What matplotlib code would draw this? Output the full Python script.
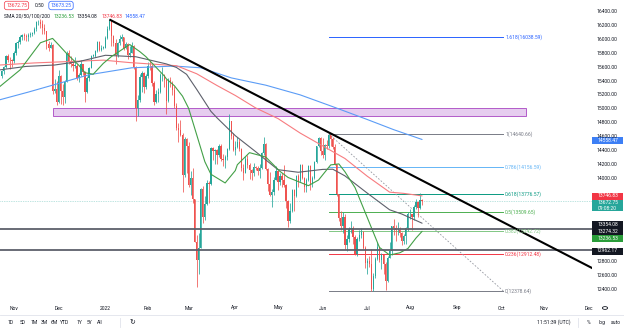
import numpy as np
import pandas as pd
import matplotlib
matplotlib.use('Agg')
import matplotlib.pyplot as plt
from matplotlib.patches import Rectangle, Circle
from matplotlib.lines import Line2D

plt.rcParams['font.family'] = ['Roboto', 'DejaVu Sans']

# ---------------- data (daily candles, Germany 40) ----------------
start_day = '2021-10-22'
opens = [15470, 15540, 15600, 15760, 15705, 15700,
         15690, 15810, 15950, 15960, 16030, 16055, 16045, 16040, 16065, 16080, 16095, 16150, 16245, 16250, 16220, 16160, 16115, 15935, 15880, 15920, 15260, 15280,
         15100, 15470, 15260, 15170, 15390, 15810, 15690, 15640, 15620, 15620, 15450, 15480, 15640, 15530, 15240, 15450, 15590, 15760, 15760, 15830, 15960, 15850, 15880,
         15880, 16020, 16150, 16270, 16050, 15950, 15770, 15940, 16010, 16030, 15880, 15930, 15770, 15810, 15910, 15600, 15010, 15120, 15460, 15520, 15320,
         15470, 15620, 15610, 15370, 15100, 15210, 15240, 15480, 15490, 15420, 15110, 15410, 15370, 15270, 15040, 14730, 14690, 14630, 14050, 14570,
         14460, 13900, 14000, 13700, 13090, 12830, 13000, 13850, 13440, 13630, 13930, 13920, 14440, 14390, 14410, 14330, 14470, 14280, 14270, 14310, 14420, 14820, 14610,
         14410, 14450, 14520, 14420, 14150, 14080, 14280, 14190, 14120, 14080, 14160, 14150, 14110, 14150, 14360, 14500, 14140, 13920, 13760, 13800, 13980,
         14100, 13940, 14040, 13970, 13900, 13670, 13380, 13530, 13830, 13740, 14030, 13960, 14190, 14010, 13880, 13980, 14180, 13920, 14010, 14230, 14460, 14580,
         14390, 14340, 14480, 14460, 14620, 14560, 14450, 14200, 13770, 13430, 13310, 13450, 13040, 13130, 13270, 13290, 13150, 12910, 13120, 13190, 13230, 13000,
         12780, 12810, 12770, 12400, 12590, 12840, 13010, 12830, 12900, 12760, 12520, 12860, 12960, 13310, 13280, 13250, 13250, 13210, 13100, 13170, 13280,
         13480, 13480, 13440, 13590, 13660, 13570, 13690]
highs = [15560, 15620, 15780, 15790, 15740, 15720,
         15830, 15960, 15990, 16060, 16080, 16090, 16070, 16090, 16100, 16110, 16170, 16260, 16280, 16290, 16280, 16220, 16120, 15970, 15960, 15930, 15430, 15400,
         15560, 15480, 15360, 15420, 15830, 15850, 15760, 15690, 15740, 15640, 15520, 15700, 15650, 15550, 15470, 15600, 15770, 15790, 15850, 15980, 15970, 15920, 15900,
         16050, 16190, 16285, 16280, 16060, 16000, 15960, 16060, 16080, 16040, 15960, 15950, 15900, 15960, 15920, 15620, 15200, 15500, 15540, 15530, 15500,
         15670, 15700, 15640, 15400, 15270, 15300, 15510, 15600, 15500, 15430, 15440, 15460, 15400, 15330, 15090, 14800, 14840, 14650, 14600, 14580,
         14520, 14110, 14150, 13700, 13180, 13220, 13860, 13890, 13740, 13980, 13960, 14450, 14450, 14420, 14420, 14500, 14490, 14350, 14340, 14440, 14920, 14830, 14650,
         14530, 14590, 14560, 14430, 14200, 14320, 14330, 14220, 14140, 14220, 14180, 14180, 14200, 14380, 14590, 14510, 14150, 14090, 13840, 14020, 14180,
         14120, 14070, 14080, 14190, 13920, 13690, 13650, 13850, 13840, 14050, 14060, 14200, 14210, 14020, 14000, 14190, 14190, 14040, 14250, 14470, 14590, 14600,
         14580, 14500, 14550, 14641, 14630, 14600, 14500, 14210, 13780, 13530, 13520, 13480, 13190, 13300, 13380, 13310, 13190, 13150, 13260, 13280, 13240, 13020,
         12850, 12880, 12980, 12640, 12870, 13080, 13020, 12920, 12910, 12790, 12880, 13080, 13320, 13420, 13330, 13370, 13300, 13230, 13200, 13300, 13510,
         13560, 13490, 13610, 13700, 13680, 13790, 13700]
lows = [15440, 15500, 15590, 15680, 15570, 15600,
        15660, 15780, 15880, 15930, 15990, 15990, 15980, 15980, 16040, 16050, 16080, 16120, 16200, 16160, 16080, 16080, 15860, 15830, 15870, 15220, 15230, 15050,
        15090, 15070, 15050, 15090, 15380, 15650, 15600, 15550, 15580, 15420, 15380, 15470, 15480, 15100, 15230, 15400, 15580, 15740, 15740, 15820, 15830, 15830, 15860,
        15870, 16000, 16130, 15900, 15900, 15640, 15740, 15920, 15980, 15840, 15860, 15720, 15750, 15800, 15570, 14830, 14900, 15100, 15240, 15230, 15290,
        15450, 15560, 15330, 15050, 15080, 15100, 15230, 15400, 15310, 14920, 15100, 15310, 15200, 15010, 14700, 14520, 14610, 13800, 14020, 14070,
        13880, 13760, 13640, 13080, 12440, 12620, 12990, 13350, 13400, 13610, 13640, 13910, 14260, 14200, 14200, 14300, 14250, 14180, 14150, 14260, 14410, 14570, 14390,
        14340, 14430, 14400, 14110, 13980, 14070, 14150, 13990, 13980, 14040, 14120, 14050, 14010, 14140, 14340, 14120, 13820, 13740, 13590, 13760, 13970,
        13830, 13900, 13880, 13870, 13570, 13300, 13360, 13510, 13530, 13730, 13880, 13950, 13990, 13800, 13810, 13960, 13830, 13880, 13990, 14220, 14450, 14330,
        14290, 14260, 14420, 14440, 14460, 14420, 14190, 13750, 13380, 13250, 13220, 12980, 12950, 13080, 13220, 13050, 12900, 12880, 13100, 13140, 12980, 12710,
        12620, 12720, 12379, 12380, 12570, 12830, 12800, 12700, 12620, 12390, 12510, 12850, 12900, 13180, 13100, 13180, 13150, 13040, 13050, 13060, 13240,
        13410, 13250, 13400, 13560, 13450, 13560, 13620]
closes = [15540, 15600, 15760, 15705, 15700, 15690,
          15810, 15950, 15960, 16030, 16055, 16045, 16040, 16065, 16080, 16095, 16150, 16245, 16250, 16220, 16160, 16115, 15935, 15880, 15920, 15260, 15280, 15100,
          15470, 15260, 15170, 15390, 15810, 15690, 15640, 15620, 15620, 15450, 15480, 15640, 15530, 15240, 15450, 15590, 15760, 15760, 15830, 15960, 15850, 15880, 15880,
          16020, 16150, 16270, 16050, 15950, 15770, 15940, 16010, 16030, 15880, 15930, 15770, 15810, 15910, 15600, 15010, 15120, 15460, 15520, 15320, 15470,
          15620, 15610, 15370, 15100, 15210, 15240, 15480, 15490, 15420, 15110, 15410, 15370, 15270, 15040, 14730, 14690, 14630, 14050, 14570, 14460,
          13900, 14000, 13700, 13090, 12830, 13000, 13850, 13440, 13630, 13930, 13920, 14440, 14390, 14410, 14330, 14470, 14280, 14270, 14310, 14420, 14820, 14610, 14410,
          14450, 14520, 14420, 14150, 14080, 14280, 14190, 14120, 14080, 14160, 14150, 14110, 14150, 14360, 14500, 14140, 13920, 13760, 13800, 13980, 14100,
          13940, 14040, 13970, 13900, 13670, 13380, 13530, 13830, 13740, 14030, 13960, 14190, 14010, 13880, 13980, 14180, 13920, 14010, 14230, 14460, 14580, 14390,
          14340, 14480, 14460, 14620, 14560, 14450, 14200, 13770, 13430, 13310, 13450, 13040, 13130, 13270, 13290, 13150, 12910, 13120, 13190, 13230, 13000, 12780,
          12810, 12770, 12400, 12590, 12840, 13010, 12830, 12900, 12760, 12520, 12860, 12960, 13310, 13280, 13250, 13250, 13210, 13100, 13170, 13280, 13480,
          13480, 13440, 13590, 13660, 13570, 13690, 13673]

sma20_dates = ['2021-10-21', '2021-11-04', '2021-11-18', '2021-11-26', '2021-12-01', '2021-12-07', '2021-12-15', '2021-12-20',
               '2021-12-24', '2021-12-31', '2022-01-06', '2022-01-19', '2022-01-26', '2022-01-31', '2022-02-11', '2022-02-14',
               '2022-02-18', '2022-02-24', '2022-03-01', '2022-03-07', '2022-03-11', '2022-03-16', '2022-03-25', '2022-04-01',
               '2022-04-04', '2022-04-12', '2022-04-22', '2022-05-03', '2022-05-09', '2022-05-23', '2022-05-30', '2022-06-07',
               '2022-06-13', '2022-06-16', '2022-06-23', '2022-07-01', '2022-07-11', '2022-07-18', '2022-07-25', '2022-07-29',
               '2022-08-04', '2022-08-09']
sma20_vals = [15320, 15560, 15950, 16013, 15920, 15793, 15624, 15519,
              15497, 15654, 15752, 15925, 15822, 15749, 15473, 15432,
              15332, 15182, 15008, 14625, 14239, 14058, 13933, 14111,
              14195, 14369, 14306, 14100, 14012, 13894, 13975, 14193,
              14207, 14094, 13865, 13436, 13006, 12896, 12928, 12989,
              13140, 13236.53]
sma50_dates = ['2021-10-21', '2021-11-09', '2021-11-29', '2021-12-15', '2022-01-03', '2022-01-24', '2022-02-14', '2022-02-21',
               '2022-02-28', '2022-03-07', '2022-03-16', '2022-03-21', '2022-04-01', '2022-04-15', '2022-05-02', '2022-05-16',
               '2022-06-01', '2022-06-08', '2022-06-16', '2022-07-01', '2022-07-18', '2022-07-26', '2022-08-09']
sma50_vals = [15560, 15610, 15630, 15680, 15770, 15749, 15646, 15595,
              15496, 15279, 14963, 14870, 14613, 14384, 14124, 14087,
              14128, 14131, 14035, 13787, 13547, 13486, 13354.08]
sma100_dates = ['2021-10-21', '2021-11-15', '2021-12-31', '2022-01-19', '2022-02-21', '2022-03-07', '2022-03-21', '2022-04-01',
                '2022-04-15', '2022-05-02', '2022-05-17', '2022-06-01', '2022-06-16', '2022-07-01', '2022-07-18', '2022-07-27',
                '2022-08-09']
sma100_vals = [15630, 15660, 15700, 15665, 15620, 15504, 15335, 15192,
               15013, 14860, 14650, 14467, 14285, 14030, 13801, 13783,
               13746.83]
sma200_dates = ['2021-10-21', '2021-11-10', '2021-11-26', '2021-12-22', '2022-01-20', '2022-02-18', '2022-03-09', '2022-03-30',
                '2022-04-22', '2022-05-17', '2022-06-09', '2022-07-01', '2022-07-20', '2022-08-09']
sma200_vals = [15130, 15240, 15340, 15490, 15590, 15615, 15590, 15445,
               15340, 15200, 15020, 14846, 14700, 14558.47]

hline_levels = [13274.32, 12962.17]
last_price = 13672.75
ask_price = 13673.25
spread = '0.50'
fib_ratios = ['1.618', '1', '0.786', '0.618', '0.5', '0.382', '0.236', '0']
fib_prices = [16038.59, 14640.66, 14156.59, 13776.57, 13509.65, 13242.72, 12912.48, 12378.64]
fib_colors = ['#2962ff', '#787b86', '#64b5f6', '#089981', '#4caf50', '#81c784', '#f23645', '#787b86']
fib_span = ('2022-06-06', '2022-10-04')
trend_pts = [('2022-01-05', 16285), ('2022-11-30', 12750)]
zone_span = ('2021-11-26', '2022-10-19')
zone_prices = (14896, 15011)
month_labels = ['Nov', 'Dec', '2022', 'Feb', 'Mar', 'Apr', 'May', 'Jun', 'Jul', 'Aug', 'Sep', 'Oct', 'Nov', 'Dec']
range_buttons = ['1D', '5D', '1M', '3M', '6M', 'YTD', '1Y', '5Y', 'All']
price_ticks = [12400, 12600, 12800, 14000, 14200, 14400, 14600, 14800, 15000,
               15200, 15400, 15600, 15800, 16000, 16200, 16400]
countdown = '09:08:20'
clock = '11:51:39 (UTC)'

# ---------------- layout ----------------
W, H = 624, 333
AXR, AXB = 592, 300
P_TOP, P_BOT = 16565.5, 12248.9
X_L, X_R = -6.9, 284.7
FS = 3.6

fig = plt.figure(figsize=(W / 100, H / 100), dpi=100)
fig.patch.set_facecolor('white')
ax = fig.add_axes([0, 1 - AXB / H, AXR / W, AXB / H])
ax.set_xlim(X_L, X_R)
ax.set_ylim(P_BOT, P_TOP)
ax.set_axis_off()


def fx(x):
    return x / W


def fy(y):
    return 1 - y / H


def ypx(p):
    return (P_TOP - p) / (P_TOP - P_BOT) * AXB


cal = pd.bdate_range('2021-10-20', '2022-12-30')
nov1 = cal.get_loc(pd.Timestamp('2021-11-01'))


def bar(d):
    return cal.get_loc(pd.Timestamp(d)) - nov1


# purple zone
z0, z1 = bar(zone_span[0]), bar(zone_span[1])
ax.add_patch(Rectangle((z0, zone_prices[0]), z1 - z0, zone_prices[1] - zone_prices[0],
                       facecolor='#e6cdef', edgecolor='#b35bc9', lw=0.7, zorder=1))

# fib retracement
f0, f1 = bar(fib_span[0]), bar(fib_span[1])
for r, p, col in zip(fib_ratios, fib_prices, fib_colors):
    ax.plot([f0, f1], [p, p], color=col, lw=0.7, zorder=1.5)
    ax.text(f1 + 0.9, p, f'{r}({p:.2f})', color=col, fontsize=FS, ha='left', va='center', zorder=6)
ax.plot([f0, f1], [fib_prices[1], fib_prices[-1]], color='#9598a1', lw=0.6, ls=(0, (2, 2)), zorder=1.5)

# current price line
ax.axhline(last_price, color='#26a69a', lw=0.5, ls=(0, (1, 1.5)), alpha=0.6, zorder=1.5)

# candles
days = pd.bdate_range(start_day, periods=len(closes))
xi = np.array([bar(d) for d in days])
o, h, l, c = (np.array(a, dtype=float) for a in (opens, highs, lows, closes))
cols = np.where(c >= o, '#26a69a', '#ef5350')
ax.vlines(xi, l, h, colors=cols, lw=0.55, zorder=2)
ax.bar(xi, np.maximum(np.abs(c - o), 8), bottom=np.minimum(o, c), width=0.62,
       color=cols, lw=0, zorder=2)

# moving averages
for dates, vals, col in [(sma200_dates, sma200_vals, '#5b9cf6'),
                         (sma100_dates, sma100_vals, '#f77c80'),
                         (sma50_dates, sma50_vals, '#5d606b'),
                         (sma20_dates, sma20_vals, '#43a047')]:
    ax.plot([bar(d) for d in dates], vals, color=col, lw=0.8, zorder=3,
            solid_capstyle='round', solid_joinstyle='round')

# horizontal support lines
for p in hline_levels:
    ax.axhline(p, color='#5d606b', lw=1.3, zorder=4)

# trend line (extended to the right)
(t0d, t0p), (t1d, t1p) = trend_pts
t0, t1 = bar(t0d), bar(t1d)
slope = (t1p - t0p) / (t1 - t0)
ax.plot([t0, X_R + 2], [t0p, t0p + slope * (X_R + 2 - t0)], color='black', lw=1.5, zorder=5,
        solid_capstyle='butt')

# month labels
months = pd.date_range('2021-11-01', '2022-12-01', freq='MS')
for m, lab in zip(months, month_labels):
    d = cal[cal >= m][0]
    ax.text(bar(d), -8 / AXB, lab, transform=ax.get_xaxis_transform(), ha='center',
            va='center', fontsize=FS, color='#131722', clip_on=False)

# separators
fig.add_artist(Line2D([0, 1], [fy(315), fy(315)], color='#e0e3eb', lw=0.6))
fig.add_artist(Line2D([fx(120), fx(120)], [fy(318), fy(327)], color='#e0e3eb', lw=0.6))
fig.add_artist(Line2D([fx(578), fx(578)], [fy(318), fy(327)], color='#e0e3eb', lw=0.6))
fig.add_artist(Circle((fx(605), fy(308)), 2.6 / W, transform=fig.transFigure, fill=False,
                      ec='#131722', lw=0.6))

# price scale labels
for p in price_ticks:
    fig.text(fx(596.5), fy(ypx(p)), f'{p:.2f}', fontsize=FS, color='#131722', ha='left', va='center')

# price scale boxes
def pbox(yc, hh, color):
    fig.add_artist(Rectangle((fx(592), fy(yc + hh / 2)), 31 / W, hh / H, transform=fig.transFigure,
                             facecolor=color, edgecolor='none'))


boxes = [(sma200_vals[-1], 140.5, '#3d7ff5'), (sma100_vals[-1], 196.0, '#f23645'),
         (sma50_vals[-1], 224.0, '#131722'), (hline_levels[0], 231.2, '#131722'),
         (sma20_vals[-1], 238.6, '#2a9d3a'), (hline_levels[1], 251.0, '#131722')]
for val, yc, col in boxes:
    pbox(yc, 7, col)
    fig.text(fx(607.5), fy(yc), f'{val:.2f}', fontsize=FS, color='white', ha='center', va='center')
pbox(205.3, 11.6, '#26a69a')
fig.text(fx(607.5), fy(202.6), f'{last_price:.2f}', fontsize=FS, color='white', ha='center', va='center')
fig.text(fx(607.5), fy(208.0), countdown, fontsize=FS, color='white', ha='center', va='center')

# legend rows
fig.text(fx(16.5), fy(5.5), f'{last_price:.2f}', fontsize=FS, color='#f23645', ha='center', va='center',
         bbox=dict(boxstyle='round,pad=0.35,rounding_size=0.5', fc='white', ec='#f23645', lw=0.5))
fig.text(fx(39.5), fy(5.5), spread, fontsize=FS, color='#131722', ha='center', va='center')
fig.text(fx(61), fy(5.5), f'{ask_price:.2f}', fontsize=FS, color='#2962ff', ha='center', va='center',
         bbox=dict(boxstyle='round,pad=0.35,rounding_size=0.5', fc='white', ec='#2962ff', lw=0.5))
fig.text(fx(4), fy(16), 'SMA 20/50/100/200', fontsize=FS, color='#131722', ha='left', va='center')
for xx, val, col in [(54, sma20_vals[-1], '#2a9d3a'), (77, sma50_vals[-1], '#131722'),
                     (102, sma100_vals[-1], '#f23645'), (125, sma200_vals[-1], '#2962ff')]:
    fig.text(fx(xx), fy(16), f'{val:.2f}', fontsize=FS, color=col, ha='left', va='center')

# bottom toolbar
for xx, lab in zip([11, 22.5, 34, 44, 54, 65, 79.5, 89.5, 100], range_buttons):
    fig.text(fx(xx), fy(322.5), lab, fontsize=FS, color='#131722', ha='center', va='center')
fig.text(fx(132), fy(322.5), '\u21bb', fontsize=5, color='#131722', ha='center', va='center',
         family='DejaVu Sans')
fig.text(fx(554), fy(322.5), clock, fontsize=FS, color='#131722', ha='center', va='center')
fig.text(fx(589), fy(322.5), '%', fontsize=FS, color='#131722', ha='center', va='center')
fig.text(fx(602), fy(322.5), 'log', fontsize=FS, color='#131722', ha='center', va='center')
fig.text(fx(616), fy(322.5), 'auto', fontsize=FS, color='#131722', ha='center', va='center')

fig.savefig('out.png', dpi=100, facecolor='white')
